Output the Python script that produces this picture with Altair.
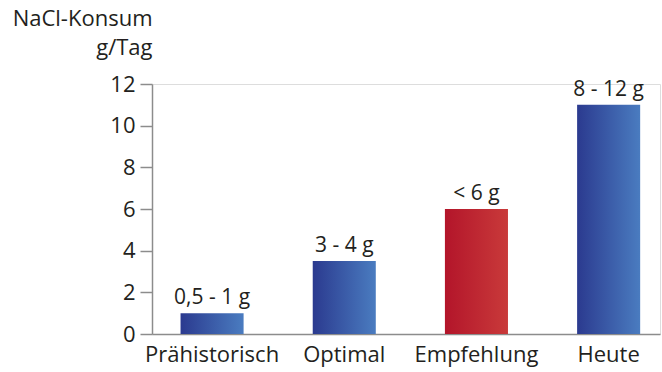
import altair as alt
import pandas as pd

categories = ["Prähistorisch", "Optimal", "Empfehlung", "Heute"]
values = [1.0, 3.5, 6.0, 11.0]
labels = ["0,5 - 1 g", "3 - 4 g", "< 6 g", "8 - 12 g"]
kind = ["blue", "blue", "red", "blue"]

df = pd.DataFrame({"cat": categories, "val": values, "lab": labels, "kind": kind})

FONT = "Open Sans"
TXT = "#231f20"
AX = "#8c8c8c"
FS = 22

blue_grad = alt.Gradient(gradient="linear", x1=0, x2=1, y1=0, y2=0,
                         stops=[alt.GradientStop(color="#2b3a8f", offset=0),
                                alt.GradientStop(color="#4a7cc0", offset=1)])
red_grad = alt.Gradient(gradient="linear", x1=0, x2=1, y1=0, y2=0,
                        stops=[alt.GradientStop(color="#b3152a", offset=0),
                               alt.GradientStop(color="#c93a3a", offset=1)])

x = alt.X("cat:N", sort=categories,
          scale=alt.Scale(paddingInner=0.523, paddingOuter=0.183, align=0.59),
          axis=alt.Axis(title=None, labelAngle=0, labelFont=FONT, labelFontSize=FS,
                        labelColor=TXT, labelPadding=10, ticks=False,
                        domainColor=AX, domainWidth=1.5))
y = alt.Y("val:Q", scale=alt.Scale(domain=[0, 12], nice=False),
          axis=alt.Axis(values=[0, 2, 4, 6, 8, 10, 12], grid=False,
                        title=["NaCl-Konsum", "g/Tag"], titleAngle=0,
                        titleAlign="right", titleBaseline="alphabetic",
                        titleX=0, titleY=-59, titleLineHeight=29,
                        titleFont=FONT, titleFontSize=FS, titleFontWeight="normal",
                        titleColor=TXT,
                        labelFont=FONT, labelFontSize=FS, labelColor=TXT,
                        labelPadding=5, tickSize=12, tickColor=AX, tickWidth=1.5,
                        domainColor=AX, domainWidth=1.5))

base = alt.Chart(df)
blue = base.transform_filter(alt.datum.kind == "blue").mark_bar(color=blue_grad).encode(x=x, y=y)
red = base.transform_filter(alt.datum.kind == "red").mark_bar(color=red_grad).encode(x=x, y=y)
text = base.mark_text(font=FONT, fontSize=21, color=TXT, baseline="bottom", dy=-5).encode(
    x=alt.X("cat:N", sort=categories), y="val:Q", text="lab:N")

chart = alt.layer(blue, red, text).properties(
    width=508, height=250, autosize="none",
    padding={"left": 152, "top": 84, "right": 2, "bottom": 38}
).configure_view(stroke=None).configure(background="white")

chart.save("out.html", embed_options={"renderer": "svg", "actions": False})
